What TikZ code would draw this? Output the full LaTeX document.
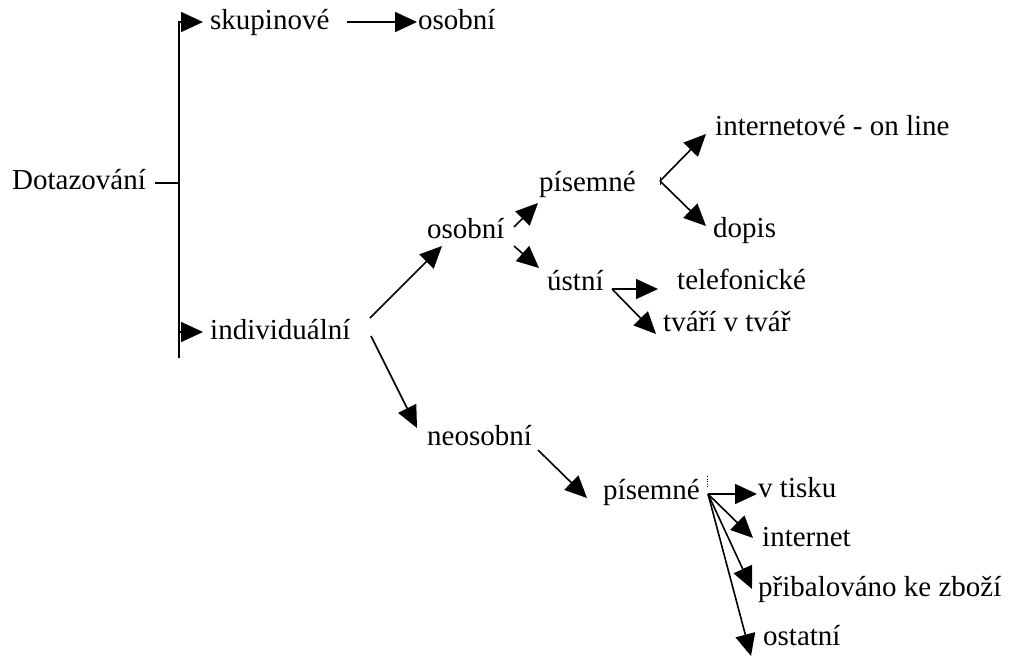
\documentclass[tikz,border=0pt]{standalone}
\usepackage{fontspec}
\setmainfont{Liberation Serif}
\usetikzlibrary{arrows.meta}
\begin{document}
\begin{tikzpicture}[x=1pt,y=-1pt,
  lbl/.style={anchor=base west,inner sep=0pt,font=\fontsize{29}{34}\selectfont},
  wire/.style={line width=1.6pt},
  arr/.style={wire,-{Triangle[length=22pt,width=20pt]}}]
\useasboundingbox (0,0) rectangle (1009,659);

% labels
\node[lbl] (dot)  at (12,189)  {Dotazování};
\node[lbl] (sku)  at (210,29)  {skupinové};
\node[lbl] (oso1) at (418,29)  {osobní};
\node[lbl] (ind)  at (210,339) {individuální};
\node[lbl] (oso2) at (427,238) {osobní};
\node[lbl] (pis1) at (539,191) {písemné};
\node[lbl] (ust)  at (547,290) {ústní};
\node[lbl] (int1) at (715,135) {internetové - on line};
\node[lbl] (dop)  at (713,237) {dopis};
\node[lbl] (tel)  at (677,289) {telefonické};
\node[lbl] (tvr)  at (663,331) {tváří v tvář};
\node[lbl] (neo)  at (427,445) {neosobní};
\node[lbl] (pis2) at (603,499) {písemné};
\node[lbl] (tis)  at (758,497) {v tisku};
\node[lbl] (int2) at (762,546) {internet};
\node[lbl] (pri)  at (758,596) {přibalováno ke zboží};
\node[lbl] (ost)  at (763,645) {ostatní};

% junctions and arrow ends
\coordinate (bartop) at (179,22);
\coordinate (barbot) at (179,358);
\coordinate (bardot) at (179,183);
\coordinate (barind) at (179,332);
\coordinate (dotend) at (155,183);
\coordinate (skutip) at (203,22);
\coordinate (indtip) at (203,332);
\coordinate (skuout) at (347,22);
\coordinate (oso1in) at (417,22);
\coordinate (indout1) at (370,318);
\coordinate (oso2in) at (442,246);
\coordinate (indout2) at (371,336);
\coordinate (neoin) at (417,428);
\coordinate (oso2out1) at (514,227);
\coordinate (pis1in) at (538,203);
\coordinate (oso2out2) at (514,246);
\coordinate (ustin) at (539,268);
\coordinate (pis1j) at (660,181);
\coordinate (int1in) at (706,134);
\coordinate (dopin) at (706,226);
\coordinate (ustj) at (612,289);
\coordinate (telin) at (658,289);
\coordinate (tvrin) at (656,334);
\coordinate (neoout) at (538,450);
\coordinate (pis2in) at (587,498);
\coordinate (pis2j) at (708,494);
\coordinate (tisin) at (757,494);
\coordinate (int2in) at (753,538);
\coordinate (priin) at (752,589);
\coordinate (ostin) at (751,656);

% main bracket
\draw[wire] (dotend) -- (bardot);
\draw[arr] (barbot) -- (bartop) -- (skutip);
\draw[arr] (barind) -- (indtip);

% group branch
\draw[arr] (skuout) -- (oso1in);

% individual branch
\draw[arr] (indout1) -- (oso2in);
\draw[arr] (indout2) -- (neoin);
\draw[arr] (oso2out1) -- (pis1in);
\draw[arr] (oso2out2) -- (ustin);
\draw[arr] (pis1j) -- (int1in);
\draw[arr] (pis1j) -- (dopin);
\draw[line width=0.6pt] ([yshift=-4]pis1j) -- ([yshift=4]pis1j);
\draw[arr] (ustj) -- (telin);
\draw[arr] (ustj) -- (tvrin);

% impersonal branch
\draw[arr] (neoout) -- (pis2in);
\draw[line width=0.6pt,dotted] (707,476) -- (707,487);
\draw[arr] (pis2j) -- (tisin);
\draw[arr] (pis2j) -- (int2in);
\draw[arr] (pis2j) -- (priin);
\draw[arr] (pis2j) -- (ostin);
\end{tikzpicture}
\end{document}
